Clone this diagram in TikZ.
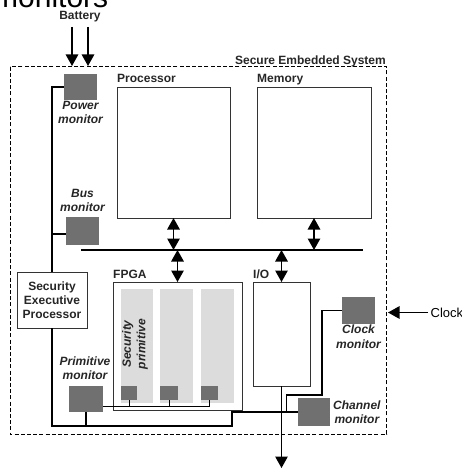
\documentclass[tikz,border=0pt]{standalone}
\usepackage{fontspec}
\setmainfont{Liberation Sans}
\usetikzlibrary{arrows.meta}
\definecolor{monfill}{HTML}{707070}
\definecolor{colfill}{HTML}{DCDCDC}
\begin{document}
\begin{tikzpicture}[x=1pt,y=-1pt,
  box/.style={draw=black!80, line width=0.9pt, fill=white, anchor=north west, inner sep=0, outer sep=0},
  mon/.style={fill=monfill, anchor=north west, inner sep=0, outer sep=0},
  colbox/.style={fill=colfill, anchor=north west, inner sep=0, outer sep=0},
  lbl/.style={font=\fontsize{12}{14}\selectfont\bfseries, text=black!85, inner sep=0},
  mlbl/.style={font=\fontsize{12}{14.5}\selectfont\bfseries\itshape, align=center, text=black!85, inner sep=0},
  wire/.style={line width=1.2pt},
  tip/.style={-{Triangle[width=12.5pt,length=11.5pt]}, line width=1.2pt},
  dtip/.style={{Triangle[width=12.5pt,length=11.5pt]}-{Triangle[width=12.5pt,length=11.5pt]}, line width=1.3pt},
  border/.style={dash pattern=on 4pt off 2.2pt, line width=0.8pt}
]
\useasboundingbox (0,0) rectangle (461,470);

% clipped title
\node[anchor=base west, font=\fontsize{30}{30}\selectfont, inner sep=0] (title) at (-7,7.5) {monitors};

% system border
\draw[border] (10,66.7) rectangle (386.7,434);
\node[lbl, anchor=base east] (sys) at (386,65) {Secure Embedded System};

% boxes
\node[box, minimum width=113pt, minimum height=131pt] (proc) at (117,87) {};
\node[lbl, anchor=base west] (proclbl) at (117,82.3) {Processor};
\node[box, minimum width=114pt, minimum height=131pt] (mem) at (257,87) {};
\node[lbl, anchor=base west] (memlbl) at (257,82.3) {Memory};
\node[box, minimum width=129pt, minimum height=128pt] (fpga) at (113,282) {};
\node[lbl, anchor=base west] (fpgalbl) at (113,278.3) {FPGA};
\node[box, minimum width=57pt, minimum height=104pt] (io) at (253,282) {};
\node[lbl, anchor=base west] (iolbl) at (253,278.3) {I/O};
\node[box, minimum width=70pt, minimum height=56pt] (sep) at (17,272) {};
\node[lbl, align=center] (seplbl) at (sep.center) {Security\\Executive\\Processor};

% FPGA columns
\node[colbox, minimum width=32pt, minimum height=114pt] (c1) at (121,289) {};
\node[colbox, minimum width=33pt, minimum height=114pt] (c2) at (160,289) {};
\node[colbox, minimum width=33pt, minimum height=114pt] (c3) at (201,289) {};
\node[mlbl, rotate=90] (seclbl) at (135,344) {Security\\primitive};
\node[mon, minimum width=16pt, minimum height=14pt] (s1) at (121,386) {};
\node[mon, minimum width=18pt, minimum height=14pt] (s2) at (160,386) {};
\node[mon, minimum width=17pt, minimum height=14pt] (s3) at (201,386) {};

% monitors
\node[mon, minimum width=33pt, minimum height=26pt] (pm) at (64,74) {};
\node[mlbl, anchor=north] (pmlbl) at ([yshift=-1pt]pm.south) {Power\\monitor};
\node[mon, minimum width=33pt, minimum height=28pt] (bm) at (66,217) {};
\node[mlbl, anchor=south] (bmlbl) at ([yshift=5pt]bm.north) {Bus\\monitor};
\node[mon, minimum width=34pt, minimum height=26pt] (prim) at (69,386) {};
\node[mlbl, anchor=south] (primlbl) at ([xshift=-1pt,yshift=6pt]prim.north) {Primitive\\monitor};
\node[mon, minimum width=33pt, minimum height=27pt] (cm) at (342,297) {};
\node[mlbl, anchor=north] (cmlbl) at ([yshift=-1pt]cm.south) {Clock\\monitor};
\node[mon, minimum width=32pt, minimum height=28pt] (chm) at (298,398) {};
\node[mlbl, anchor=west] (chmlbl) at ([xshift=3pt]chm.east) {Channel\\monitor};

% bus
\coordinate (busL) at (81,250);
\coordinate (busR) at (363,250);
\draw[line width=2pt] (busL) -- (busR);
\draw[dtip] (proc.south) -- (proc.south |- busL);
\draw[dtip] (mem.south) -- (mem.south |- busL);
\draw[dtip] (fpga.north |- busL) -- (fpga.north);
\draw[dtip] (io.north |- busL) -- (io.north);

% battery
\node[lbl] (bat) at (80,17) {Battery};
\coordinate (b1s) at (72,27); \coordinate (b1e) at (72,66);
\coordinate (b2s) at (88,27); \coordinate (b2e) at (88,66);
\draw[tip] (b1s) -- (b1e);
\draw[tip] (b2s) -- (b2e);

% clock input
\node[anchor=base west, font=\fontsize{13}{15}\selectfont, inner sep=0] (clk) at (430.5,317) {Clock};
\coordinate (clks) at (428,312.5);
\coordinate (clke) at (388,312.5);
\draw[tip] (clks) -- (clke);

% output
\coordinate (out) at (281.5,468);
\draw[tip] (io.south) -- (out);

% wiring of monitors
\draw[wire] (pm.west) -| (sep.north);
\draw[wire] ([yshift=-3pt]bm.west) -- ([yshift=-3pt]bm.west -| sep.north);
\coordinate (bj) at (232,426);
\draw[wire] (sep.south) |- (bj) |- (chm.west);
\draw[wire] (prim.south) -- (prim.south |- bj);
\draw[line width=1pt] ([yshift=-7pt]prim.east) -| (s3.south);
\coordinate (pl) at (0,406);
\draw[line width=1pt] (s1.south) -- (s1.south |- pl);
\draw[line width=1pt] (s2.south) -- (s2.south |- pl);
\coordinate (ck1) at (322,395);
\coordinate (ck2) at (286.5,412);
\draw[wire] (cm.west) -| (ck1) -| (ck2);
\end{tikzpicture}
\end{document}
